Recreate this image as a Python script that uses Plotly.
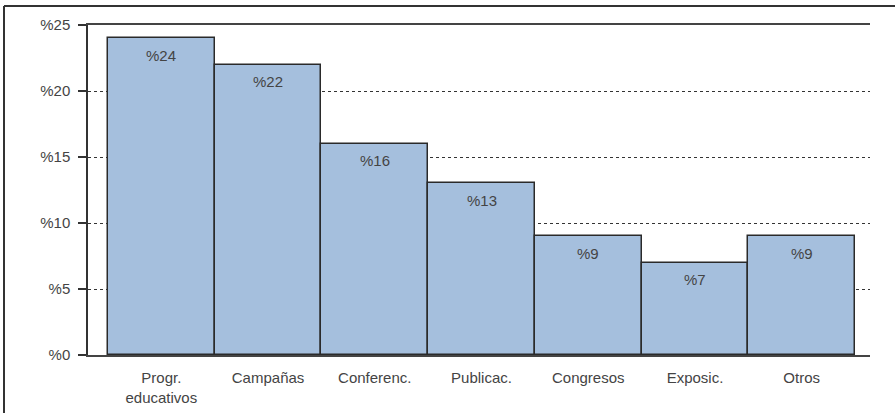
import plotly.graph_objects as go

categories = ["Progr.<br>educativos", "Campañas", "Conferenc.", "Publicac.", "Congresos", "Exposic.", "Otros"]
values = [24, 22, 16, 13, 9, 7, 9]
labels = ["%24", "%22", "%16", "%13", "%9", "%7", "%9"]
tick_vals = [0, 5, 10, 15, 20, 25]
tick_text = ["%0", "%5", "%10", "%15", "%20", "%25"]

FONT = "Liberation Sans, Arial, sans-serif"
TXT = "#444444"

fig = go.Figure()
fig.add_trace(go.Bar(
    x=list(range(len(categories))), y=values, width=1,
    marker=dict(color="#a5bfdd", line=dict(color="#2a2a2a", width=1.5)),
    hoverinfo="skip",
))

for i, (v, t) in enumerate(zip(values, labels)):
    fig.add_annotation(x=i, y=v, text=t, showarrow=False, yshift=-17,
                       font=dict(family=FONT, size=15, color=TXT))

fig.update_layout(
    width=895, height=413,
    margin=dict(l=88, r=25, t=25, b=58),
    paper_bgcolor="white", plot_bgcolor="white",
    showlegend=False, bargap=0,
    font=dict(family=FONT, size=15, color=TXT),
    xaxis=dict(
        range=[-0.687, 6.64], automargin=False,
        tickmode="array", tickvals=list(range(len(categories))), ticktext=categories,
        showgrid=False, zeroline=False,
        showline=True, linecolor="#444444", linewidth=2, mirror=True,
        ticks="", ticklabelstandoff=8,
        fixedrange=True,
    ),
    yaxis=dict(
        range=[0, 25], automargin=False,
        tickmode="array", tickvals=tick_vals, ticktext=tick_text,
        showgrid=True, gridcolor="#333333", gridwidth=1, griddash="dot",
        zeroline=False,
        showline=True, linecolor="#333333", linewidth=1.5,
        ticks="outside", ticklen=8, tickcolor="#333333", tickwidth=1.5,
        ticklabelstandoff=5,
        fixedrange=True,
    ),
)

# y axis line extends slightly below the baseline
fig.add_shape(type="line", xref="paper", yref="y", x0=0, x1=0, y0=0, y1=-0.6,
              line=dict(color="#333333", width=1.5))
# outer frame (top and left edges)
fig.add_shape(type="line", xref="paper", yref="paper", x0=-84/782, x1=1.1, y0=(413-58-6)/330, y1=(413-58-6)/330,
              line=dict(color="#333333", width=2))
fig.add_shape(type="line", xref="paper", yref="paper", x0=-84/782, x1=-84/782, y0=(413-58-6)/330, y1=-0.3,
              line=dict(color="#333333", width=2))

fig.write_html("out.html")
